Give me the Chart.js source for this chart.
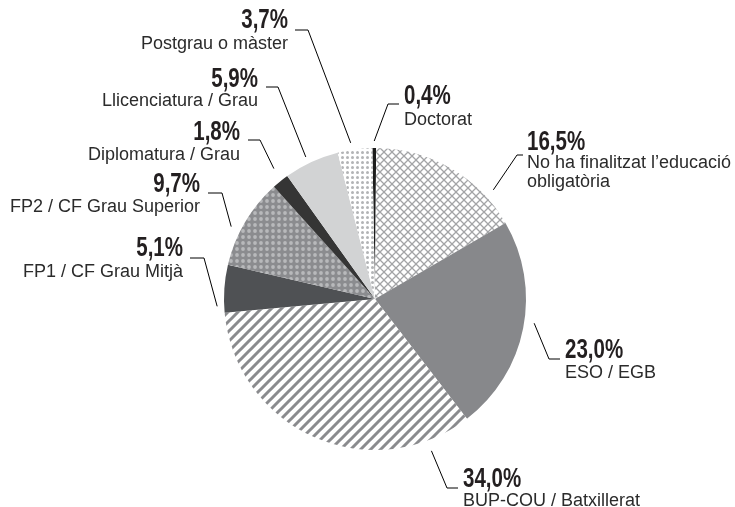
<!DOCTYPE html>
<html>
<head>
<meta charset="utf-8">
<script src="https://cdn.jsdelivr.net/npm/chart.js@4"></script>
<style>
  html, body { margin: 0; padding: 0; background: #fff; }
  #wrap { width: 735px; height: 507px; }
</style>
</head>
<body>
<div id="wrap"><canvas id="nivellEstudis"></canvas></div>
<script>
// data, clockwise from the top
var categories = [
    ['Doctorat'],
    ['No ha finalitzat l\u2019educació', 'obligatòria'],
    ['ESO / EGB'],
    ['BUP-COU / Batxillerat'],
    ['FP1 / CF Grau Mitjà'],
    ['FP2 / CF Grau Superior'],
    ['Diplomatura / Grau'],
    ['Llicenciatura / Grau'],
    ['Postgrau o màster']
];
var shares = [0.4, 16.5, 23.0, 34.0, 5.1, 9.7, 1.8, 5.9, 3.7];

// where each leader line starts on the slice (t along the arc), its elbow, and text spot
var labelLayout = [
    { t: 0.5,  gap: 7,  ex: 388, ey: 104, len: 11,  tx: 404, py: 104, ny: [125] },
    { t: 0.79, gap: 10, ex: 517, ey: 155, len: 6,   tx: 527, py: 150, ny: [168, 187] },
    { t: 0.47, gap: 10, ex: 549, ey: 359, len: 11,  tx: 565, py: 358, ny: [378] },
    { t: 0.14, gap: 11, ex: 447, ey: 488, len: 11,  tx: 463, py: 487, ny: [506] },
    { t: 0.14, gap: 7,  ex: 204, ey: 258, len: -14, tx: 183, py: 256, ny: [277] },
    { t: 0.39, gap: 10, ex: 222, ey: 193, len: -14, tx: 200, py: 192, ny: [212] },
    { t: 0.65, gap: 14, ex: 260, ey: 140, len: -12, tx: 240, py: 140, ny: [160] },
    { t: 0.45, gap: 7,  ex: 278, ey: 87,  len: -12, tx: 258, py: 87,  ny: [106] },
    { t: 0.41, gap: 7,  ex: 308, ey: 30,  len: -13, tx: 288, py: 28,  ny: [49] }
];

function makePattern(size, draw) {
    var c = document.createElement('canvas');
    c.width = size; c.height = size;
    var g = c.getContext('2d');
    draw(g, size);
    return document.getElementById('nivellEstudis').getContext('2d').createPattern(c, 'repeat');
}

var lattice = makePattern(8, function (g, s) {
    g.fillStyle = '#fff'; g.fillRect(0, 0, s, s);
    g.strokeStyle = '#a3a4a6'; g.lineWidth = 1.3;
    g.beginPath();
    g.moveTo(0, 0); g.lineTo(s, s);
    g.moveTo(0, s); g.lineTo(s, 0);
    g.stroke();
});
var stripes = makePattern(10, function (g, s) {
    g.fillStyle = '#fff'; g.fillRect(0, 0, s, s);
    g.strokeStyle = '#8a8b8e'; g.lineWidth = 3;
    g.beginPath();
    g.moveTo(-2, s + 2); g.lineTo(s + 2, -2);
    g.moveTo(-2, 2); g.lineTo(2, -2);
    g.moveTo(s - 2, s + 2); g.lineTo(s + 2, s - 2);
    g.stroke();
});
var greyDots = makePattern(6, function (g, s) {
    g.fillStyle = '#8b8c8f'; g.fillRect(0, 0, s, s);
    g.fillStyle = '#b8b9bb';
    g.beginPath(); g.arc(3, 3, 1.9, 0, Math.PI * 2); g.fill();
});
var whiteDots = makePattern(5, function (g, s) {
    g.fillStyle = '#fff'; g.fillRect(0, 0, s, s);
    g.fillStyle = '#b3b4b6';
    g.beginPath(); g.arc(2.5, 2.5, 1.5, 0, Math.PI * 2); g.fill();
});

var sliceFills = ['#1c1c1c', lattice, '#87888b', stripes, '#4f5154', greyDots, '#353535', '#d2d3d4', whiteDots];

// condensed bold look: squeeze normal bold horizontally
function narrowText(ctx, text, x, y, squeeze) {
    ctx.save();
    ctx.translate(x, y);
    ctx.scale(squeeze, 1);
    ctx.fillText(text, 0, 0);
    ctx.restore();
}

var leaderLabels = {
    id: 'leaderLabels',
    afterDraw: function (chart) {
        var ctx = chart.ctx;
        var arcs = chart.getDatasetMeta(0).data;
        ctx.save();
        arcs.forEach(function (arc, i) {
            var L = labelLayout[i];
            var p = arc.getProps(['x', 'y', 'startAngle', 'endAngle', 'outerRadius'], true);
            var a = p.startAngle + L.t * (p.endAngle - p.startAngle);
            var r = p.outerRadius + L.gap;
            ctx.strokeStyle = '#000';
            ctx.lineWidth = 1;
            ctx.beginPath();
            ctx.moveTo(p.x + Math.cos(a) * r, p.y + Math.sin(a) * r);
            ctx.lineTo(L.ex, L.ey);
            ctx.lineTo(L.ex + L.len, L.ey);
            ctx.stroke();

            ctx.textAlign = L.len < 0 ? 'right' : 'left';
            ctx.textBaseline = 'alphabetic';
            ctx.fillStyle = '#231f20';
            ctx.font = 'bold 27px "Liberation Sans", Arial, sans-serif';
            narrowText(ctx, shares[i].toFixed(1).replace('.', ',') + '%', L.tx, L.py, 0.76);
            ctx.fillStyle = '#2b2b2b';
            ctx.font = '18px "Liberation Sans", Arial, sans-serif';
            categories[i].forEach(function (line, k) {
                ctx.fillText(line, L.tx, L.ny[k]);
            });
        });
        ctx.restore();
    }
};

new Chart(document.getElementById('nivellEstudis'), {
    type: 'pie',
    data: {
        labels: categories.map(function (c) { return c.join(' '); }),
        datasets: [{
            data: shares,
            backgroundColor: sliceFills,
            borderWidth: 0
        }]
    },
    options: {
        responsive: true,
        maintainAspectRatio: false,
        animation: false,
        rotation: -1,
        layout: { padding: { left: 224, right: 209, top: 148, bottom: 57 } },
        plugins: {
            legend: { display: false },
            tooltip: { enabled: false }
        }
    },
    plugins: [leaderLabels]
});
</script>
</body>
</html>
